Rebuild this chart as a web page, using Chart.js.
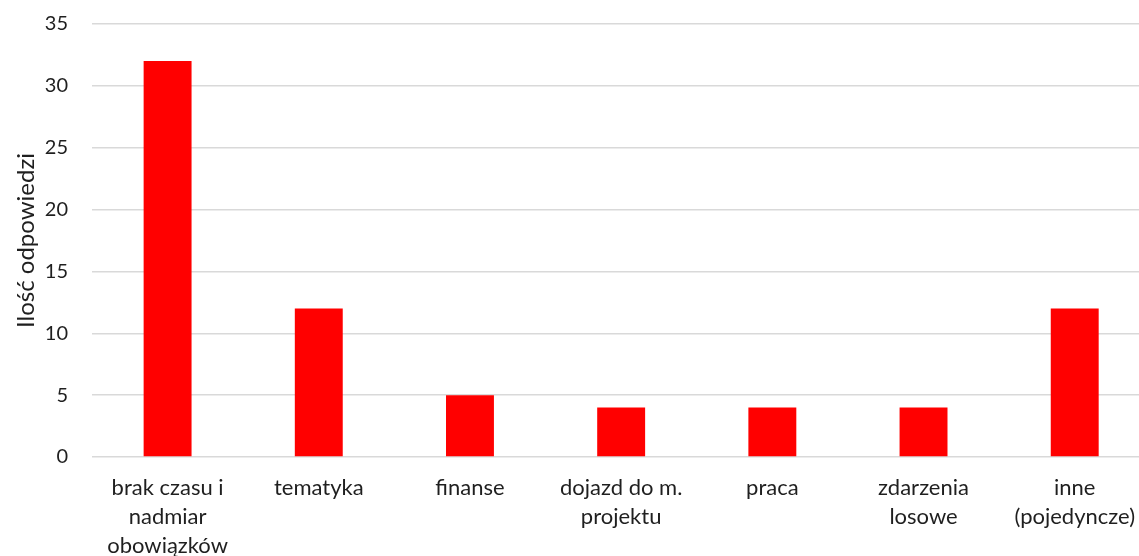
<!DOCTYPE html>
<html>
<head>
<meta charset="utf-8">
<script src="https://cdn.jsdelivr.net/npm/chart.js@4/dist/chart.umd.min.js"></script>
<style>
  html, body { margin: 0; padding: 0; background: #fff; overflow: hidden; }
  #wrap { position: absolute; left: 0; top: 0; width: 1152px; height: 556px; }
</style>
</head>
<body>
<div id="wrap"><canvas id="reasonChart"></canvas></div>
<script>
var categories = [
    ['brak czasu i', 'nadmiar', 'obowiązków'],
    'tematyka',
    'finanse',
    ['dojazd do m.', 'projektu'],
    'praca',
    ['zdarzenia', 'losowe'],
    ['inne', '(pojedyncze)']
];
var answers = [32, 12, 5, 4, 4, 4, 12];
var yTicks = [0, 5, 10, 15, 20, 25, 30, 35];
var axisTitle = 'Ilość odpowiedzi';

var fontFamily = "Lato, 'Open Sans', sans-serif";
var textColor = '#1f1f1f';

var ctx = document.getElementById('reasonChart').getContext('2d');
var reasonChart = new Chart(ctx, {
    type: 'bar',
    data: {
        labels: categories,
        datasets: [{
            data: answers,
            backgroundColor: '#ff0000',
            borderWidth: 0,
            barPercentage: 0.317,
            categoryPercentage: 1
        }]
    },
    options: {
        responsive: true,
        maintainAspectRatio: false,
        animation: false,
        layout: { autoPadding: false, padding: { top: 24, right: 0, left: 0, bottom: 0 } },
        plugins: {
            legend: { display: false },
            tooltip: { enabled: false }
        },
        scales: {
            x: {
                grid: { display: false, drawTicks: false },
                border: { display: false },
                ticks: {
                    color: textColor,
                    font: { family: fontFamily, size: 22, lineHeight: 1.3 },
                    padding: 17,
                    maxRotation: 0,
                    autoSkip: false
                },
                afterFit: function (scale) { scale.height = 99; }
            },
            y: {
                min: 0,
                max: 35,
                afterBuildTicks: function (scale) {
                    scale.ticks = yTicks.map(function (v) { return { value: v }; });
                },
                // invisible tick marks give the gap between labels and plot
                grid: { color: '#d9d9d9', lineWidth: 1.5, drawTicks: true, tickLength: 24, tickColor: 'rgba(0,0,0,0)' },
                border: { display: false },
                ticks: {
                    color: textColor,
                    font: { family: fontFamily, size: 20 },
                    padding: 0
                },
                title: {
                    display: true,
                    text: axisTitle,
                    color: textColor,
                    font: { family: fontFamily, size: 24 },
                    padding: { top: 12, bottom: 0 }
                },
                afterFit: function (scale) { scale.width = 92; }
            }
        }
    }
});
</script>
</body>
</html>
